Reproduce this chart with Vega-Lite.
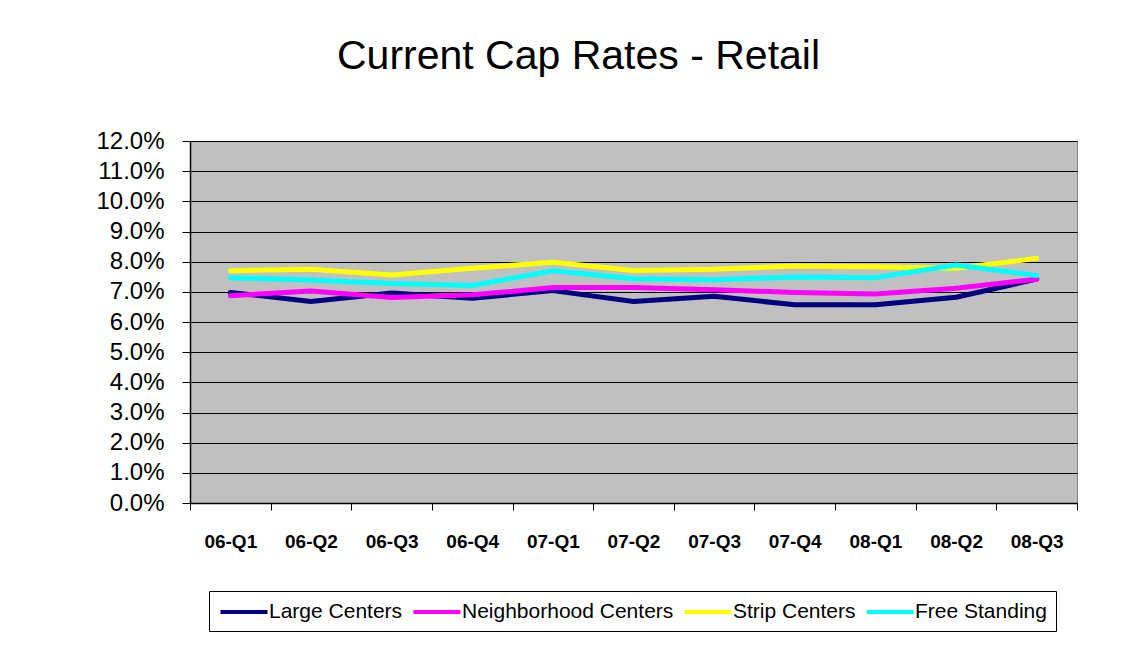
{
  "$schema": "https://vega.github.io/schema/vega-lite/v6.json",
  "width": 887,
  "height": 362,
  "autosize": {"type": "none"},
  "padding": {"left": 190, "top": 141, "right": 67, "bottom": 162},
  "background": "white",
  "title": {
    "text": "Current Cap Rates - Retail",
    "font": "Liberation Sans",
    "fontSize": 41,
    "fontWeight": "normal",
    "color": "black",
    "anchor": "middle",
    "dx": -55,
    "baseline": "alphabetic",
    "offset": 19
  },
  "config": {
    "view": {"fill": "#C0C0C0", "stroke": "#808080", "strokeWidth": 1},
    "axis": {"labelFont": "Liberation Sans", "labelColor": "black", "domainColor": "black", "tickColor": "black"}
  },
  "data": {
    "values": [
      {"q": "06-Q1", "s": "Large Centers", "v": 0.0698},
      {"q": "06-Q2", "s": "Large Centers", "v": 0.0668},
      {"q": "06-Q3", "s": "Large Centers", "v": 0.0696},
      {"q": "06-Q4", "s": "Large Centers", "v": 0.0679},
      {"q": "07-Q1", "s": "Large Centers", "v": 0.0704},
      {"q": "07-Q2", "s": "Large Centers", "v": 0.0668},
      {"q": "07-Q3", "s": "Large Centers", "v": 0.0685},
      {"q": "07-Q4", "s": "Large Centers", "v": 0.0657},
      {"q": "08-Q1", "s": "Large Centers", "v": 0.0657},
      {"q": "08-Q2", "s": "Large Centers", "v": 0.0682},
      {"q": "08-Q3", "s": "Large Centers", "v": 0.0742},
      {"q": "06-Q1", "s": "Neighborhood Centers", "v": 0.0687},
      {"q": "06-Q2", "s": "Neighborhood Centers", "v": 0.0703},
      {"q": "06-Q3", "s": "Neighborhood Centers", "v": 0.0681},
      {"q": "06-Q4", "s": "Neighborhood Centers", "v": 0.069},
      {"q": "07-Q1", "s": "Neighborhood Centers", "v": 0.0714},
      {"q": "07-Q2", "s": "Neighborhood Centers", "v": 0.0714},
      {"q": "07-Q3", "s": "Neighborhood Centers", "v": 0.0707},
      {"q": "07-Q4", "s": "Neighborhood Centers", "v": 0.0698},
      {"q": "08-Q1", "s": "Neighborhood Centers", "v": 0.0693},
      {"q": "08-Q2", "s": "Neighborhood Centers", "v": 0.0712},
      {"q": "08-Q3", "s": "Neighborhood Centers", "v": 0.0742},
      {"q": "06-Q1", "s": "Strip Centers", "v": 0.077},
      {"q": "06-Q2", "s": "Strip Centers", "v": 0.0775},
      {"q": "06-Q3", "s": "Strip Centers", "v": 0.0756},
      {"q": "06-Q4", "s": "Strip Centers", "v": 0.0778},
      {"q": "07-Q1", "s": "Strip Centers", "v": 0.0798},
      {"q": "07-Q2", "s": "Strip Centers", "v": 0.0771},
      {"q": "07-Q3", "s": "Strip Centers", "v": 0.0775},
      {"q": "07-Q4", "s": "Strip Centers", "v": 0.0786},
      {"q": "08-Q1", "s": "Strip Centers", "v": 0.0783},
      {"q": "08-Q2", "s": "Strip Centers", "v": 0.0778},
      {"q": "08-Q3", "s": "Strip Centers", "v": 0.0811},
      {"q": "06-Q1", "s": "Free Standing", "v": 0.0747},
      {"q": "06-Q2", "s": "Free Standing", "v": 0.0739},
      {"q": "06-Q3", "s": "Free Standing", "v": 0.0728},
      {"q": "06-Q4", "s": "Free Standing", "v": 0.0721},
      {"q": "07-Q1", "s": "Free Standing", "v": 0.077},
      {"q": "07-Q2", "s": "Free Standing", "v": 0.0743},
      {"q": "07-Q3", "s": "Free Standing", "v": 0.074},
      {"q": "07-Q4", "s": "Free Standing", "v": 0.0749},
      {"q": "08-Q1", "s": "Free Standing", "v": 0.0747},
      {"q": "08-Q2", "s": "Free Standing", "v": 0.0789},
      {"q": "08-Q3", "s": "Free Standing", "v": 0.0754}
    ]
  },
  "mark": {"type": "line", "strokeWidth": 5, "strokeCap": "round", "strokeJoin": "round"},
  "encoding": {
    "x": {
      "field": "q",
      "type": "nominal",
      "bandPosition": 0.5,
      "scale": {"type": "band", "paddingInner": 0, "paddingOuter": 0},
      "axis": {
        "title": null,
        "labelAngle": 0,
        "labelFontSize": 19,
        "labelFontWeight": "bold",
        "labelPadding": 22,
        "tickBand": "extent",
        "tickSize": 7,
        "grid": false,
        "domainWidth": 1.5
      }
    },
    "y": {
      "field": "v",
      "type": "quantitative",
      "scale": {"domain": [0, 0.12], "nice": false},
      "axis": {
        "title": null,
        "format": ".1%",
        "values": [0, 0.01, 0.02, 0.03, 0.04, 0.05, 0.06, 0.07, 0.08, 0.09, 0.1, 0.11, 0.12],
        "labelFontSize": 24,
        "labelPadding": 18,
        "tickSize": 8,
        "grid": true,
        "gridColor": "black",
        "gridOpacity": 1,
        "gridWidth": 1,
        "domainWidth": 1.5
      }
    },
    "color": {
      "field": "s",
      "type": "nominal",
      "sort": ["Large Centers", "Neighborhood Centers", "Strip Centers", "Free Standing"],
      "scale": {
        "domain": ["Large Centers", "Neighborhood Centers", "Strip Centers", "Free Standing"],
        "range": ["#000080", "#FF00FF", "#FFFF00", "#00FFFF"]
      },
      "legend": {
        "title": null,
        "orient": "none",
        "legendX": 19,
        "legendY": 450,
        "direction": "horizontal",
        "symbolType": "M-2.35,0L2.35,0",
        "symbolSize": 400,
        "symbolStrokeWidth": 4,
        "symbolOffset": 14,
        "labelFont": "Liberation Sans",
        "labelFontSize": 21,
        "labelLimit": 0,
        "labelColor": "black",
        "labelOffset": 13,
        "columnPadding": 2,
        "padding": 9,
        "strokeColor": "black",
        "fillColor": "white"
      }
    },
    "order": {"field": "s"}
  }
}
